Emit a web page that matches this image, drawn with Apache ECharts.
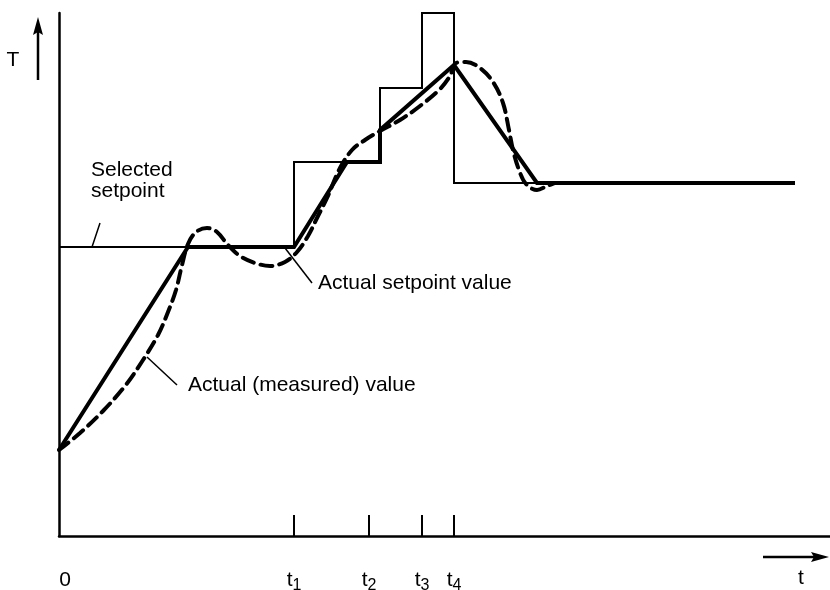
<!DOCTYPE html>
<html>
<head>
<meta charset="utf-8">
<script src="https://cdn.jsdelivr.net/npm/echarts@6/dist/echarts.min.js"></script>
<style>
  html, body { margin: 0; padding: 0; background: #fff; }
  #chart { width: 830px; height: 590px; }
</style>
</head>
<body>
<div id="chart"></div>
<script>
// Temperature controller: selected setpoint, ramped setpoint and measured value over time.
// Units are arbitrary (time on x, temperature on y).
const tMax = 154.2;
const TMax = 104.6;

// tick instants on the time axis
const tickNames = ['0', 't1', 't2', 't3', 't4'];
const tickTimes = [0, 47, 62, 72.6, 79];

// selected setpoint (step profile)
const selectedX = [0, 47, 47, 64.2, 64.2, 72.6, 72.6, 79, 79, 147.2];
const selectedY = [57.8, 57.8, 74.8, 74.8, 89.6, 89.6, 104.6, 104.6, 70.6, 70.6];

// actual (ramped) setpoint value
const rampX = [0, 25.8, 47, 57.6, 64.2, 64.2, 79, 95.6, 147.2];
const rampY = [17.2, 57.8, 57.8, 74.8, 74.8, 81.2, 94.2, 70.6, 70.6];

// actual (measured) value
const measX = [0, 4.2, 8.8, 13.2, 16.8, 19.8, 21.8, 23.4, 24.6, 25.8, 27.4, 29.6, 31.6, 33.8, 36.2, 39.2, 42.2, 45.2, 47.6, 49.8, 51.8, 53.6, 56.2, 58.6, 61.2, 64.2, 68.2, 72.2, 76.2, 78.2, 79.4, 81.4, 84.2, 86.8, 88.8, 90, 90.8, 92, 93.4, 95.6, 97.6, 99.2];
const measY = [17.2, 20.6, 25, 30, 35.2, 40.2, 44.8, 49.2, 54.2, 58.4, 60.8, 61.6, 60.8, 58.2, 56, 54.6, 54, 54.8, 56.8, 60, 64, 67.6, 73.6, 77.2, 79.2, 81, 83.2, 86, 89.4, 92, 94.6, 94.8, 93.6, 90.8, 86.6, 81.2, 77.2, 73.2, 70.4, 69.2, 70, 70.6];

const zip = (xs, ys) => xs.map((x, i) => [x, ys[i]]);
const FONT = '"Liberation Sans", Arial, Helvetica, sans-serif';

const chart = echarts.init(document.getElementById('chart'), null, { renderer: 'canvas' });

const option = {
  animation: false,
  backgroundColor: '#fff',
  grid: { left: 59, right: 0, top: 13, bottom: 54, containLabel: false, outerBoundsMode: 'none' },
  xAxis: {
    type: 'value', min: 0, max: tMax,
    axisLine: { show: true, onZero: false, lineStyle: { color: '#000', width: 2.5 } },
    splitLine: { show: false },
    axisTick: {
      show: true, inside: true, length: 21,
      customValues: tickTimes.slice(1),
      lineStyle: { color: '#000', width: 2 }
    },
    axisLabel: {
      show: true, margin: 30,
      customValues: tickTimes,
      color: '#000', fontFamily: FONT, fontSize: 21,
      formatter: (v) => {
        const i = tickTimes.indexOf(v);
        const name = tickNames[i];
        if (name === '0') return '{z|0}';
        return '{t|t}{s|' + name.slice(1) + '}';
      },
      rich: {
        z: { fontSize: 21, fontFamily: FONT, color: '#000', padding: [4, 0, 0, 12] },
        t: { fontSize: 21, fontFamily: FONT, color: '#000' },
        s: { fontSize: 16, fontFamily: FONT, color: '#000', padding: [12, 0, 0, 0] }
      }
    }
  },
  yAxis: {
    type: 'value', min: 0, max: TMax,
    axisLine: { show: true, onZero: false, lineStyle: { color: '#000', width: 2.5 } },
    splitLine: { show: false },
    axisTick: { show: false },
    axisLabel: { show: false }
  },
  series: [
    {
      name: 'Selected setpoint', type: 'line', data: zip(selectedX, selectedY),
      symbol: 'none', silent: true,
      lineStyle: { color: '#000', width: 2, join: 'miter' }
    },
    {
      name: 'Actual setpoint value', type: 'line', data: zip(rampX, rampY),
      symbol: 'none', silent: true,
      lineStyle: { color: '#000', width: 4, join: 'miter' }
    },
    {
      name: 'Actual (measured) value', type: 'line', data: zip(measX, measY),
      symbol: 'none', silent: true, smooth: 0.35,
      lineStyle: { color: '#000', width: 4, type: [12, 7], cap: 'round' }
    }
  ],
  graphic: [
    // T arrow
    { type: 'line', shape: { x1: 38, y1: 80, x2: 38, y2: 30 }, style: { stroke: '#000', lineWidth: 2.5 } },
    { type: 'polygon', shape: { points: [[38, 17], [33, 35], [38, 32], [43, 35]] }, style: { fill: '#000' } },
    { type: 'text', style: { text: 'T', x: 13, y: 60, align: 'center', verticalAlign: 'middle', font: '21px ' + FONT, fill: '#000' } },
    // t arrow
    { type: 'line', shape: { x1: 763, y1: 557, x2: 815, y2: 557 }, style: { stroke: '#000', lineWidth: 2.5 } },
    { type: 'polygon', shape: { points: [[829, 557], [811, 552], [814, 557], [811, 562]] }, style: { fill: '#000' } },
    { type: 'text', style: { text: 't', x: 801, y: 578, align: 'center', verticalAlign: 'middle', font: '21px ' + FONT, fill: '#000' } },
    // annotations
    { type: 'text', style: { text: 'Selected\nsetpoint', x: 91, y: 160, align: 'left', verticalAlign: 'top', lineHeight: 21, font: '21px ' + FONT, fill: '#000' } },
    { type: 'line', shape: { x1: 92, y1: 247, x2: 100, y2: 223 }, style: { stroke: '#000', lineWidth: 1.5 } },
    { type: 'text', style: { text: 'Actual setpoint value', x: 318, y: 283, align: 'left', verticalAlign: 'middle', font: '21px ' + FONT, fill: '#000' } },
    { type: 'line', shape: { x1: 285, y1: 248, x2: 312, y2: 283 }, style: { stroke: '#000', lineWidth: 1.5 } },
    { type: 'text', style: { text: 'Actual (measured) value', x: 188, y: 385, align: 'left', verticalAlign: 'middle', font: '21px ' + FONT, fill: '#000' } },
    { type: 'line', shape: { x1: 147, y1: 357, x2: 177, y2: 385 }, style: { stroke: '#000', lineWidth: 1.5 } }
  ]
};

chart.setOption(option);
</script>
</body>
</html>
